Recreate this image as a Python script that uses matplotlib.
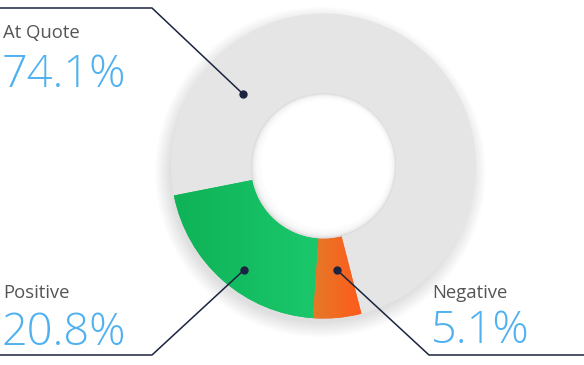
import matplotlib.pyplot as plt
import numpy as np
from matplotlib.patches import Circle

# データ
labels = ['At Quote', 'Positive', 'Negative']
values = [74.1, 20.8, 5.1]
colors = ['#e5e5e5', '#16bd62', '#f7661f']
grads = [None, ('#0fb257', '#1ac86b'), ('#e47a28', '#ff5a1c')]

W, H = 584, 365
cx, cy = 323.5, H - 166      # ドーナツ中心 (y上向き)
R, ring = 152.5, 80

plt.rcParams['font.family'] = ['Open Sans', 'DejaVu Sans']

fig = plt.figure(figsize=(W / 100, H / 100), dpi=100)
ax = fig.add_axes([0, 0, 1, 1])

# 外側の影
for i in range(16):
    ax.add_patch(Circle((cx - 3, cy - 6), R - 2 + i * 1.0, color='black',
                        alpha=0.008, lw=0, zorder=0))

wedges, _ = ax.pie(values, colors=colors, startangle=284.4, counterclock=True,
                   radius=R, center=(cx, cy),
                   wedgeprops=dict(width=ring, linewidth=0))

# グラデーション
for w, g in zip(wedges, grads):
    if g is None:
        continue
    c0 = np.array(plt.matplotlib.colors.to_rgb(g[0]))
    c1 = np.array(plt.matplotlib.colors.to_rgb(g[1]))
    bb = w.get_path().get_extents(w.get_transform())
    bb = ax.transData.inverted().transform(bb)
    t = np.linspace(0, 1, 64)
    img = (c0[None, :] * (1 - t[:, None]) + c1[None, :] * t[:, None])[None, :, :]
    im = ax.imshow(img, extent=[bb[0][0], bb[1][0], bb[0][1], bb[1][1]],
                   aspect='auto', zorder=w.get_zorder() + 0.1, interpolation='bilinear')
    im.set_clip_path(w)

# 穴の内側の影
r_in = R - ring
ax.add_patch(Circle((cx, cy), r_in, color='#dcdcdc', lw=0, zorder=3))
for i in range(1, 10):
    ax.add_patch(Circle((cx + 0.2 * i, cy + 0.2 * i), r_in - i * 0.8, color='white',
                        alpha=0.3, lw=0, zorder=3))
ax.add_patch(Circle((cx + 2, cy + 2), r_in - 8, color='white', lw=0, zorder=4))

# 引き出し線
line_c = '#1b2440'
dots = {'At Quote': (243, 94), 'Positive': (244, 270), 'Negative': (337, 270)}
paths = {
    'At Quote': [(243, 94), (152, 8), (0, 8)],
    'Positive': [(244, 270), (152, 355), (0, 355)],
    'Negative': [(337, 270), (429, 355), (584, 355)],
}
for k in labels:
    xs, ys = zip(*paths[k])
    ax.plot(xs, [H - y for y in ys], color=line_c, lw=1.1, zorder=5)
    ax.plot(dots[k][0], H - dots[k][1], 'o', color=line_c, ms=5, zorder=6)

# テキスト
txt_pos = {'At Quote': (3, 38, 87), 'Positive': (3, 298, 345), 'Negative': (432, 298, 343)}
for k, v in zip(labels, values):
    x, y1, y2 = txt_pos[k]
    ax.text(x, H - y1, k, fontsize=13.3, color='#555555', va='baseline', ha='left')
    ax.text(x - 1, H - y2, f'{v}%', fontsize=32.5, color='#4fb1ef', va='baseline',
            ha='left', fontweight='light')

ax.set_xlim(0, W)
ax.set_ylim(0, H)
ax.set_aspect('equal')
ax.axis('off')
fig.savefig('out.png', dpi=100)
